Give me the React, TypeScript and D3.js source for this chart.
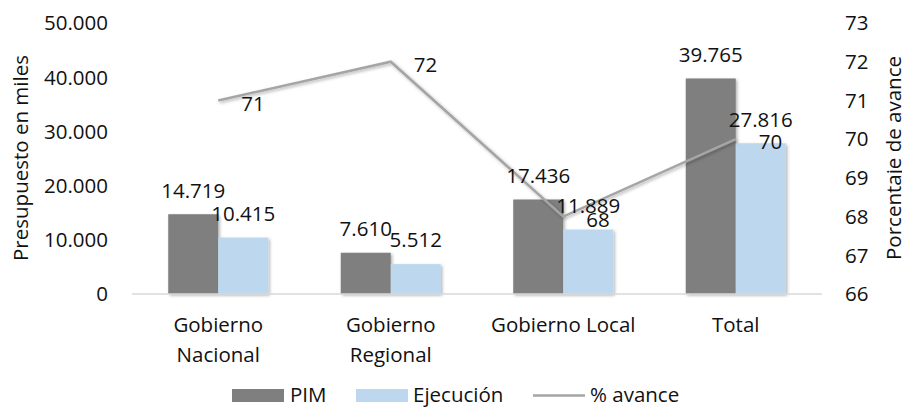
import React from "react";
import * as d3 from "d3";

const categories: string[][] = [["Gobierno", "Nacional"], ["Gobierno", "Regional"], ["Gobierno Local"], ["Total"]];
const categoryKeys = ["Gobierno Nacional", "Gobierno Regional", "Gobierno Local", "Total"];
const pim = [14719, 7610, 17436, 39765];
const ejecucion = [10415, 5512, 11889, 27816];
const avance = [71, 72, 68, 70];
const leftTicks = [0, 10000, 20000, 30000, 40000, 50000];
const rightTicks = [66, 67, 68, 69, 70, 71, 72, 73];
const seriesNames = ["PIM", "Ejecución"];

const W = 902, H = 408;
const FONT = "'Open Sans', sans-serif";
const FS = 20.5;
const DIG = 7.3; // baseline offset to centre digits

export default function App() {
  const x = d3.scaleBand<string>().domain(categoryKeys).range([132, 822]).paddingInner(0).paddingOuter(0);
  const yL = d3.scaleLinear().domain([0, 50000]).range([294, 23]);
  const yR = d3.scaleLinear().domain([66, 73]).range([294, 23]);
  const groupW = 100;
  const xs = d3.scaleBand<string>().domain(seriesNames).range([0, groupW]);
  const fmt = d3.formatLocale({ thousands: ".", decimal: ",", grouping: [3], currency: ["", ""] }).format(",d");
  const colors: Record<string, string> = { PIM: "#7f7f7f", "Ejecución": "#bdd7ee" };
  const seriesData: Record<string, number[]> = { PIM: pim, "Ejecución": ejecucion };
  const cx = (k: string) => (x(k) as number) + x.bandwidth() / 2;
  const lineGen = d3.line<number>().x((_, i) => cx(categoryKeys[i])).y((d) => yR(d));

  return (
    <svg width={W} height={H} style={{ position: "absolute", left: 0, top: 0, background: "#fff" }} fontFamily={FONT} fontSize={FS}>
      <defs>
        <filter id="sh" x="-20%" y="-20%" width="140%" height="140%">
          <feDropShadow dx="1.5" dy="1.5" stdDeviation="1.5" floodColor="#000" floodOpacity="0.3" />
        </filter>
      </defs>
      {/* left axis labels */}
      {leftTicks.map((t) => (
        <text key={"l" + t} x={108} y={yL(t) + DIG} textAnchor="end" fill="#111">{fmt(t)}</text>
      ))}
      {rightTicks.map((t) => (
        <text key={"r" + t} x={845} y={yR(t) + DIG} textAnchor="start" fill="#111">{t}</text>
      ))}
      <text transform={`translate(28,158) rotate(-90)`} textAnchor="middle" fill="#111">Presupuesto en miles</text>
      <text transform={`translate(901,158) rotate(-90)`} textAnchor="middle" fill="#111">Porcentaje de avance</text>
      {/* bars */}
      {seriesNames.map((s) =>
        seriesData[s].map((v, i) => {
          const k = categoryKeys[i];
          const x0 = (x(k) as number) + (x.bandwidth() - groupW) / 2 + (xs(s) as number);
          return (
            <rect key={s + i} x={x0} y={yL(v)} width={xs.bandwidth()} height={yL(0) - yL(v)} fill={colors[s]} filter="url(#sh)" />
          );
        })
      )}
      {/* axis line */}
      <line x1={132} x2={822} y1={294} y2={294} stroke="#d9d9d9" strokeWidth={1.5} />
      {/* line */}
      <path d={lineGen(avance) || ""} fill="none" stroke="#a5a5a5" strokeWidth={2.5} filter="url(#sh)" />
      {/* bar labels */}
      {seriesNames.map((s) =>
        seriesData[s].map((v, i) => {
          const k = categoryKeys[i];
          const x0 = (x(k) as number) + (x.bandwidth() - groupW) / 2 + (xs(s) as number) + xs.bandwidth() / 2;
          return (
            <text key={"bl" + s + i} x={x0} y={yL(v) - 24 + DIG} textAnchor="middle" fill="#111">{fmt(v)}</text>
          );
        })
      )}
      {/* line labels */}
      {avance.map((v, i) => (
        <text key={"al" + i} x={cx(categoryKeys[i]) + 23} y={yR(v) + 3 + DIG} textAnchor="start" fill="#111">{v}</text>
      ))}
      {/* category labels */}
      {categories.map((lines, i) => (
        <text key={"c" + i} x={cx(categoryKeys[i])} y={332} textAnchor="middle" fill="#111">
          {lines.map((ln, j) => (
            <tspan key={j} x={cx(categoryKeys[i])} dy={j === 0 ? 0 : 30}>{ln}</tspan>
          ))}
        </text>
      ))}
      {/* legend */}
      <g>
        <rect x={232} y={389} width={52} height={13} fill={colors.PIM} />
        <text x={290} y={402} fill="#111">PIM</text>
        <rect x={356} y={389} width={52} height={13} fill={colors["Ejecución"]} />
        <text x={413} y={402} fill="#111">Ejecución</text>
        <line x1={533} x2={585} y1={395.5} y2={395.5} stroke="#a5a5a5" strokeWidth={2.5} />
        <text x={590} y={402} fill="#111">% avance</text>
      </g>
    </svg>
  );
}
